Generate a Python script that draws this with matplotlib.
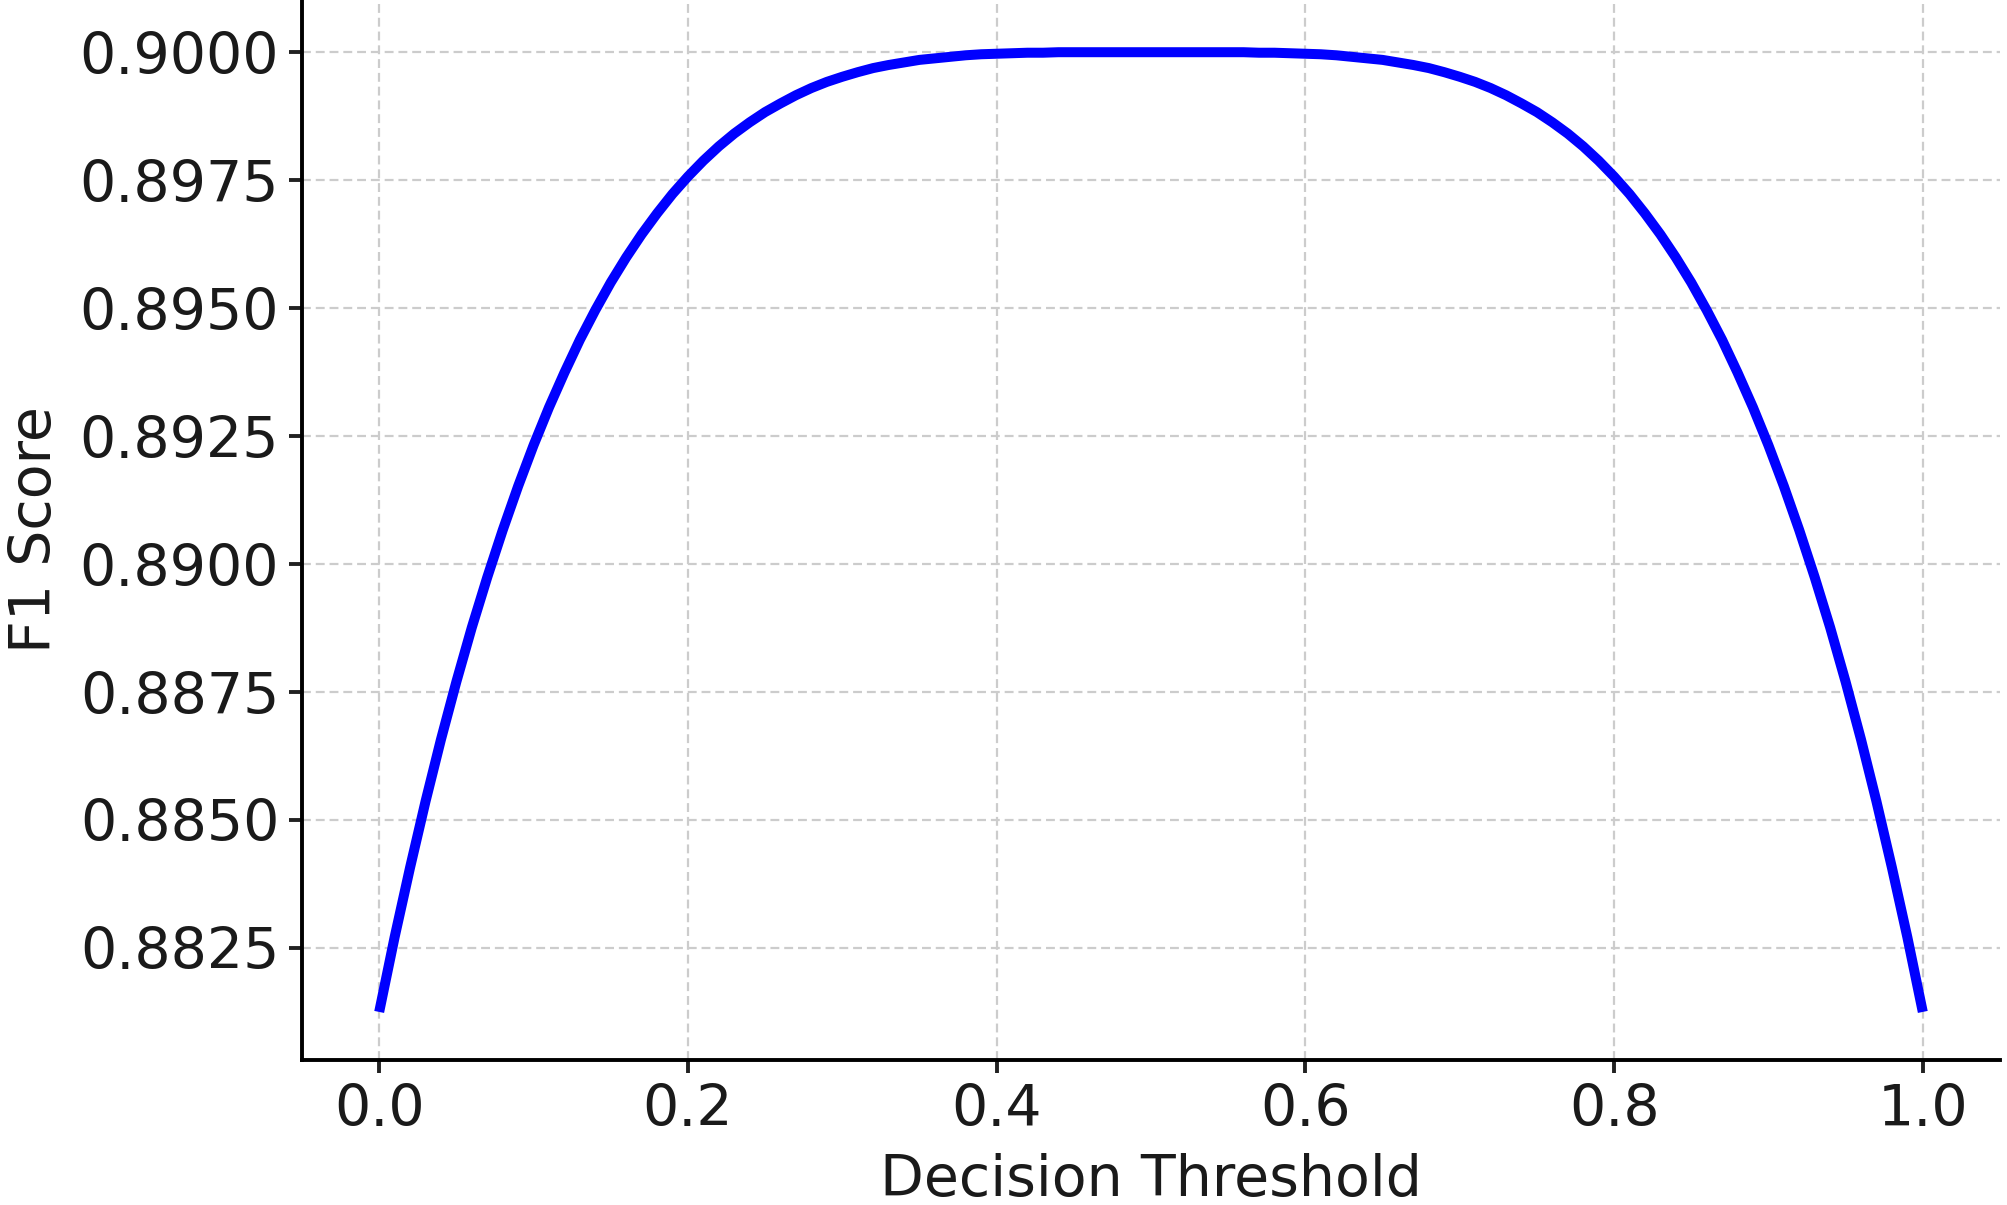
import matplotlib
matplotlib.use("Agg")
import matplotlib.pyplot as plt

# values (decision threshold vs F1 score)
thresholds = [0.00, 0.01, 0.02, 0.03, 0.04, 0.05, 0.06, 0.07, 0.08, 0.09,
              0.10, 0.11, 0.12, 0.13, 0.14, 0.15, 0.16, 0.17, 0.18, 0.19,
              0.20, 0.21, 0.22, 0.23, 0.24, 0.25, 0.26, 0.27, 0.28, 0.29,
              0.30, 0.31, 0.32, 0.33, 0.34, 0.35, 0.36, 0.37, 0.38, 0.39,
              0.40, 0.41, 0.42, 0.43, 0.44, 0.45, 0.46, 0.47, 0.48, 0.49,
              0.50, 0.51, 0.52, 0.53, 0.54, 0.55, 0.56, 0.57, 0.58, 0.59,
              0.60, 0.61, 0.62, 0.63, 0.64, 0.65, 0.66, 0.67, 0.68, 0.69,
              0.70, 0.71, 0.72, 0.73, 0.74, 0.75, 0.76, 0.77, 0.78, 0.79,
              0.80, 0.81, 0.82, 0.83, 0.84, 0.85, 0.86, 0.87, 0.88, 0.89,
              0.90, 0.91, 0.92, 0.93, 0.94, 0.95, 0.96, 0.97, 0.98, 0.99,
              1.00]
f1_scores = [0.88125, 0.88271, 0.88407, 0.88536, 0.88657, 0.88770, 0.88876, 0.88974, 0.89066, 0.89152,
             0.89232, 0.89306, 0.89374, 0.89438, 0.89496, 0.89550, 0.89599, 0.89644, 0.89685, 0.89723,
             0.89757, 0.89788, 0.89816, 0.89841, 0.89863, 0.89883, 0.89900, 0.89916, 0.89930, 0.89942,
             0.89952, 0.89961, 0.89969, 0.89975, 0.89980, 0.89985, 0.89988, 0.89991, 0.89994, 0.89996,
             0.89997, 0.89998, 0.89999, 0.89999, 0.90000, 0.90000, 0.90000, 0.90000, 0.90000, 0.90000,
             0.90000, 0.90000, 0.90000, 0.90000, 0.90000, 0.90000, 0.90000, 0.89999, 0.89999, 0.89998,
             0.89997, 0.89996, 0.89994, 0.89991, 0.89988, 0.89985, 0.89980, 0.89975, 0.89969, 0.89961,
             0.89952, 0.89942, 0.89930, 0.89916, 0.89900, 0.89883, 0.89863, 0.89841, 0.89816, 0.89788,
             0.89757, 0.89723, 0.89685, 0.89644, 0.89599, 0.89550, 0.89496, 0.89438, 0.89374, 0.89306,
             0.89232, 0.89152, 0.89066, 0.88974, 0.88876, 0.88770, 0.88657, 0.88536, 0.88407, 0.88271,
             0.88125]
x_ticks = [0.0, 0.2, 0.4, 0.6, 0.8, 1.0]
y_ticks = [0.8825, 0.8850, 0.8875, 0.8900, 0.8925, 0.8950, 0.8975, 0.9000]

fs = 20.5
fig = plt.figure(figsize=(10.04, 6.025), dpi=200)
ax = fig.add_axes([0.1504, 0.1203, 0.8456, 0.8797])

ax.plot(thresholds, f1_scores, color="blue", linewidth=3.6, solid_capstyle="butt")

ax.set_xticks(x_ticks)
ax.set_yticks(y_ticks)
ax.set_yticklabels([f"{v:.4f}" for v in y_ticks])
ax.set_xlim(-0.05, 1.05)
ax.set_ylim(0.88031, 0.90102)

ax.grid(True, linestyle="--", color="#cccccc", linewidth=0.8, dashes=(4, 2.2))
ax.set_axisbelow(True)

for side in ["top", "right"]:
    ax.spines[side].set_visible(False)
for side in ["left", "bottom"]:
    ax.spines[side].set_linewidth(1.4)

ax.tick_params(axis="both", labelsize=fs, width=1.4, length=4.7, color="#222222",
               labelcolor="#1a1a1a", pad=3.5)
ax.set_xlabel("Decision Threshold", fontsize=fs, color="#1a1a1a")
ax.set_ylabel("F1 Score", fontsize=fs, color="#1a1a1a")
ax.xaxis.set_label_coords(0.5, -0.088)
ax.yaxis.set_label_coords(-0.141, 0.5)

fig.savefig("out.png", dpi=200)
